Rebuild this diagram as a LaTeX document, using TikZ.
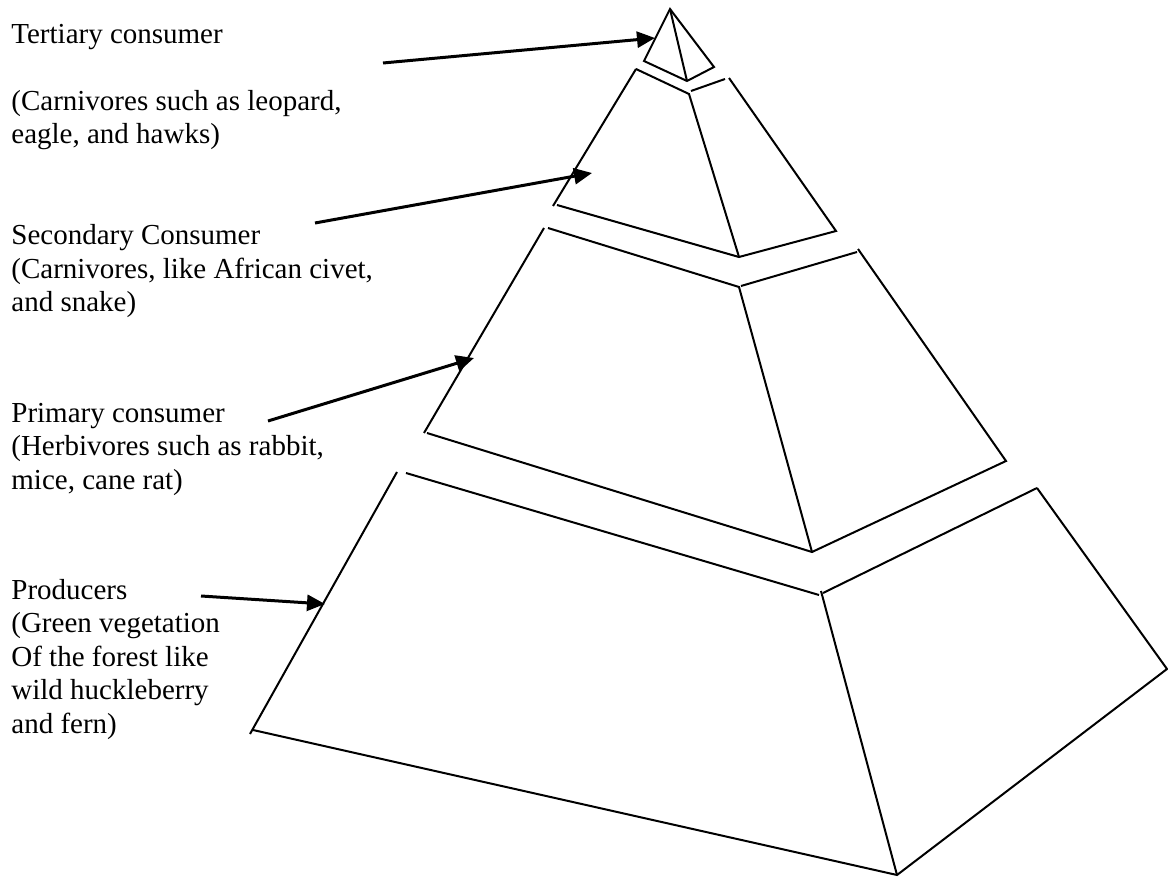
\documentclass[tikz,border=0pt]{standalone}
\usepackage{fontspec}
\setmainfont{Liberation Serif}
\usetikzlibrary{arrows.meta}
\begin{document}
\begin{tikzpicture}[x=0.5pt,y=-0.5pt,
  face/.style={line width=1pt},
  pointer/.style={-{Triangle[length=9pt,width=8pt]},line width=1.5pt},
  levtext/.style={anchor=base west,inner sep=0pt,align=left,
    font=\fontsize{14.5pt}{16.75pt}\selectfont}]
\useasboundingbox (0,0) rectangle (1168,877);
% tertiary level
\draw[face] (670,9) -- (644,61) -- (687,81) -- (714,67) -- cycle;
\draw[face] (670,9) -- (687,81);
% secondary level
\draw[face] (636,69) -- (553,206);
\draw[face] (557,205) -- (739,257) -- (836,231) -- (729,78);
\draw[face] (636,69) -- (689,94) -- (739,257);
\draw[face] (691,91) -- (725,79);
% primary level
\draw[face] (544,228) -- (424,433);
\draw[face] (427,433) -- (812,552) -- (1006,461) -- (858,249);
\draw[face] (548,228) -- (739,287) -- (812,552);
\draw[face] (741,286) -- (857,252);
% producers
\draw[face] (397,472) -- (250,734);
\draw[face] (253,730) -- (897,875) -- (1167,669) -- (1037,488);
\draw[face] (406,473) -- (819,595);
\draw[face] (821,591) -- (897,875);
\draw[face] (823,593) -- (1037,488);
% texts (anchored at the baseline of the last line)
\node[levtext] (tert) at (11,144) {Tertiary consumer\\ ~\\ (Carnivores such as leopard,\\ eagle, and hawks)};
\node[levtext] (sec) at (11,312) {Secondary Consumer\\ (Carnivores, like African civet,\\ and snake)};
\node[levtext] (prim) at (11,489) {Primary consumer\\ (Herbivores such as rabbit,\\ mice, cane rat)};
\node[levtext] (prod) at (11,733) {Producers\\ (Green vegetation\\ Of the forest like\\ wild huckleberry\\ and fern)};
% arrows
\coordinate (tertfrom) at (383,63);
\coordinate (tertto) at (655,38);
\coordinate (secfrom) at (315,223);
\coordinate (secto) at (592,173);
\coordinate (primfrom) at (268,421);
\coordinate (primto) at (474,358);
\coordinate (prodfrom) at (201,596);
\coordinate (prodto) at (325,604);
\draw[pointer] (tertfrom) -- (tertto);
\draw[pointer] (secfrom) -- (secto);
\draw[pointer] (primfrom) -- (primto);
\draw[pointer] (prodfrom) -- (prodto);
\end{tikzpicture}
\end{document}
